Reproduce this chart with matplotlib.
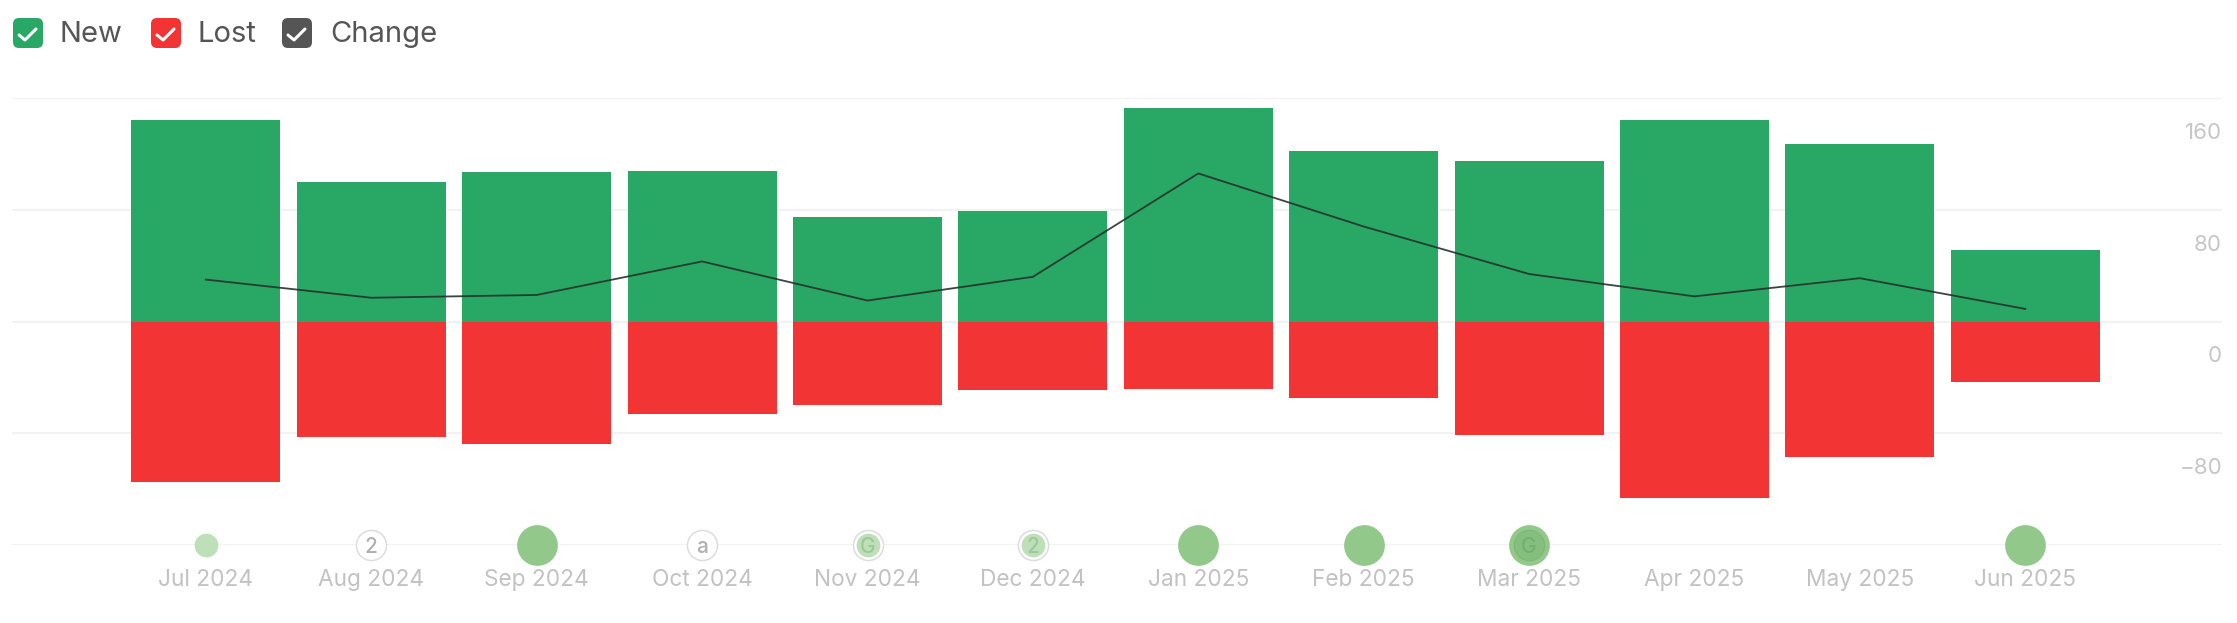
import matplotlib
matplotlib.use("Agg")
import matplotlib.pyplot as plt
from matplotlib.patches import FancyBboxPatch
from matplotlib.transforms import ScaledTranslation

plt.rcParams['font.family'] = ['Inter', 'DejaVu Sans']

months = ['Jul 2024', 'Aug 2024', 'Sep 2024', 'Oct 2024', 'Nov 2024', 'Dec 2024',
          'Jan 2025', 'Feb 2025', 'Mar 2025', 'Apr 2025', 'May 2025', 'Jun 2025']
new = [144, 100, 107, 108, 75, 79, 153, 122, 115, 144, 127, 51]
lost = [-115, -83, -88, -66, -60, -49, -48, -55, -81, -126, -97, -43]
change = [30, 17, 19, 43, 15, 32, 106, 68, 34, 18, 31, 9]
bubble_level = [1, 0, 2, 0, 1, 1, 2, 2, 2, 0, 0, 2]
badges = ['', '2', '', 'a', 'G', '2', '', '', 'G', '', '', '']
yticks = [160, 80, 0, -80, -160]
ytick_labels = ['160', '80', '0', '\u221280', '']
legend_names = ['New', 'Lost', 'Change']

W, H = 2237, 623
GREEN, RED, DARK = '#29a764', '#f23434', '#555555'
fig = plt.figure(figsize=(W / 100, H / 100), dpi=100, facecolor='white')
L, R, T, B = 12, 2222, 98, 545
ax = fig.add_axes([L / W, 1 - B / H, (R - L) / W, (B - T) / H])
ax.set_ylim(-160, 160)
ax.set_xlim((L - 205.9) / 165.4, (R - 205.9) / 165.4)
for s in ax.spines.values():
    s.set_visible(False)
ax.set_axisbelow(True)
ax.grid(axis='y', color='#f2f2f2', lw=1.5)
x = list(range(12))
ax.bar(x, new, width=0.9, color=GREEN, edgecolor='none', zorder=2)
ax.bar(x, lost, width=0.9, color=RED, edgecolor='none', zorder=2)
ax.plot(x, change, color='#26302b', lw=1.3, alpha=0.9, zorder=3)

ax.set_yticks(yticks)
ax.set_yticklabels(ytick_labels)
ax.yaxis.tick_right()
ax.tick_params(axis='y', length=0, pad=0, labelsize=16, labelcolor='#c6c6c6')
offset = ScaledTranslation(0, -33 / 100, fig.dpi_scale_trans)
for lab in ax.get_yticklabels():
    lab.set_ha('right')
    lab.set_transform(lab.get_transform() + offset)
ax.set_xticks(x)
ax.set_xticklabels(months)
ax.tick_params(axis='x', length=0, pad=17, labelsize=16.3, labelcolor='#c2c2c2')

# event bubbles on the baseline
for i, (lvl, badge) in enumerate(zip(bubble_level, badges)):
    if lvl == 2:
        ax.scatter(i, -160, s=860, color='#92c88a', linewidths=0, clip_on=False, zorder=4)
        if badge:
            ax.scatter(i, -160, s=480, facecolor='#85bf7e', edgecolor='#7db776', linewidths=0.8, clip_on=False, zorder=5)
    elif lvl == 1:
        if badge:
            ax.scatter(i, -160, s=470, facecolor='white', edgecolor='#dddddd', linewidths=1.1, clip_on=False, zorder=4)
            ax.scatter(i, -160, s=290, color='#bde0b8', linewidths=0, clip_on=False, zorder=5)
        else:
            ax.scatter(i, -160, s=290, color='#bde0b8', linewidths=0, clip_on=False, zorder=4)
    elif badge:
        ax.scatter(i, -160, s=470, facecolor='white', edgecolor='#dddddd', linewidths=1.1, clip_on=False, zorder=4)
    if badge:
        col = '#9ec79a' if lvl else '#b0b0b0'
        if lvl == 2:
            col = '#76ae70'
        ax.text(i, -160, badge, ha='center', va='center_baseline', fontsize=15, color=col,
                fontweight='medium', clip_on=False, zorder=6)

# legend
ov = fig.add_axes([0, 0, 1, 1], facecolor='none')
ov.set_xlim(0, W)
ov.set_ylim(H, 0)
ov.axis('off')
box_x = [13, 151, 282]
text_x = [60, 197, 330]
for bx, tx, c, name in zip(box_x, text_x, [GREEN, RED, DARK], legend_names):
    ov.add_patch(FancyBboxPatch((bx + 5, 23), 20, 20, boxstyle='round,pad=5,rounding_size=6',
                                facecolor=c, edgecolor='none'))
    ov.plot([bx + 6, bx + 12, bx + 23], [35, 40, 29], color='white', lw=2.2,
            solid_capstyle='round', solid_joinstyle='round')
    ov.text(tx, 34, name, ha='left', va='center', fontsize=21, color='#555555')

fig.savefig('out.png', dpi=100)
